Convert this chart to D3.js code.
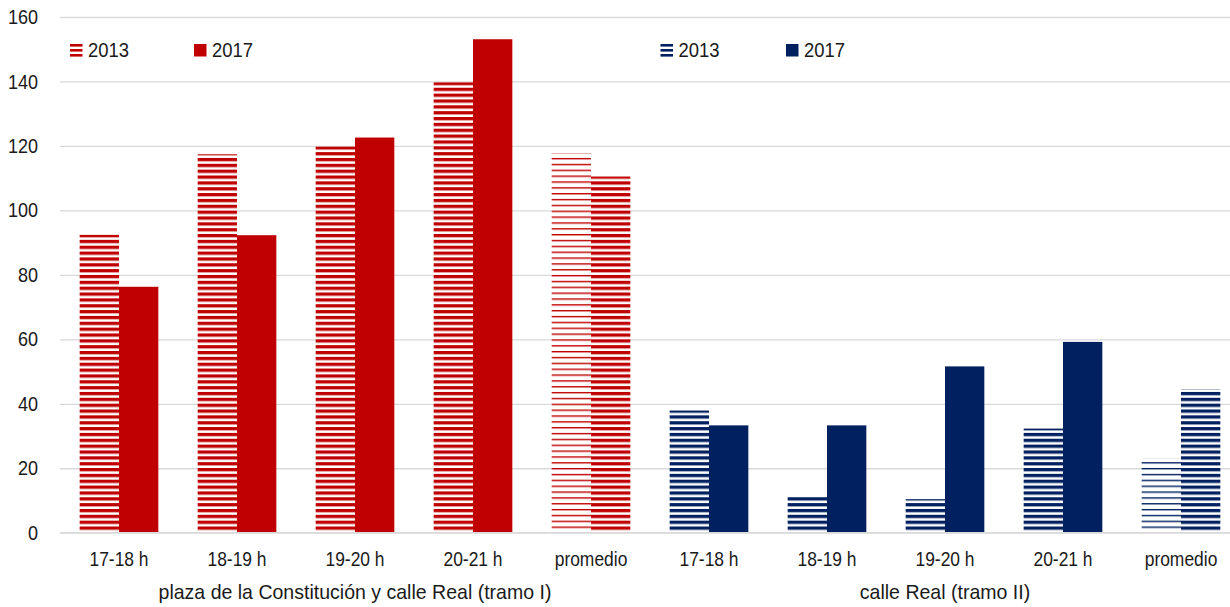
<!DOCTYPE html>
<html>
<head>
<meta charset="utf-8">
<script src="https://cdn.jsdelivr.net/npm/d3@7"></script>
<style>
  body { margin: 0; background: #fff; }
  text { font-family: "Liberation Sans Narrow", "Arial Narrow", "Liberation Sans", Arial, sans-serif; fill: #1a1a1a; }
</style>
</head>
<body>
<svg id="chart" width="1230" height="607"></svg>
<script>
// Hourly counts for the two street sections, 2013 vs 2017
const hours = ["17-18 h", "18-19 h", "19-20 h", "20-21 h", "promedio"];
const sections = ["plaza de la Constitución y calle Real (tramo I)", "calle Real (tramo II)"];
const years = ["2013", "2017"];
const tramoI2013 = [92.4, 117.4, 119.8, 139.7, 117.7];
const tramoI2017 = [76.3, 92.3, 122.6, 153.1, 110.5];
const tramoII2013 = [37.9, 11.4, 10.4, 32.3, 23.1];
const tramoII2017 = [33.3, 33.3, 51.6, 59.2, 44.5];
const yTicks = [0, 20, 40, 60, 80, 100, 120, 140, 160];
const sectionColors = ["#C00000", "#002060"];

const seriesBySection = [[tramoI2013, tramoI2017], [tramoII2013, tramoII2017]];

const W = 1230, H = 607;
const svg = d3.select("#chart");
const FS = 20.5;

// narrow the glyphs horizontally (condensed face look)
function condense(sel, f) {
  sel.each(function () {
    const len = this.getComputedTextLength();
    d3.select(this).attr("textLength", len * f).attr("lengthAdjust", "spacingAndGlyphs");
  });
}

const y = d3.scaleLinear().domain([0, 160]).range([532.7, 17]);
const x = d3.scaleBand().domain(d3.range(sections.length * hours.length)).range([60, 1240]).padding(0);
const inner = d3.scaleBand().domain(years).range([0, x.bandwidth()]).paddingInner(0).paddingOuter(0.5);

// stripe fills
const defs = svg.append("defs");
const period = 5.85;
sectionColors.forEach((c, k) => {
  [["dense", 3.3], ["sparse", 1.4]].forEach(([name, th]) => {
    const p = defs.append("pattern")
      .attr("id", `${name}-${k}`)
      .attr("patternUnits", "userSpaceOnUse")
      .attr("width", 10).attr("height", period);
    p.append("rect").attr("width", 10).attr("height", period).attr("fill", "#fff");
    p.append("rect").attr("width", 10).attr("height", th).attr("fill", c);
  });
});

// gridlines + y labels
const yAxis = svg.append("g")
  .attr("transform", "translate(60,0)")
  .call(d3.axisLeft(y).tickValues(yTicks).tickSizeInner(-(W - 60)).tickSizeOuter(0).tickPadding(22));
yAxis.select(".domain").remove();
yAxis.attr("font-family", null);
yAxis.selectAll("line").attr("stroke", "#d9d9d9").attr("stroke-width", 1.3);
yAxis.selectAll("text").attr("font-size", FS).attr("fill", "#1a1a1a").call(condense, 0.88);

// bars
const bars = [];
sections.forEach((s, si) => {
  hours.forEach((h, hi) => {
    years.forEach((yr, yi) => {
      bars.push({ si, hi, yi, yr, v: seriesBySection[si][yi][hi], idx: si * hours.length + hi });
    });
  });
});
function fillFor(d) {
  const avg = d.hi === hours.length - 1;
  if (d.yi === 0) return avg ? `url(#sparse-${d.si})` : `url(#dense-${d.si})`;
  return avg ? `url(#dense-${d.si})` : sectionColors[d.si];
}
svg.append("g").selectAll("rect").data(bars).join("rect")
  .attr("x", d => x(d.idx) + inner(d.yr))
  .attr("width", inner.bandwidth())
  .attr("y", d => y(d.v))
  .attr("height", d => y(0) - y(d.v))
  .attr("fill", fillFor);

// baseline
svg.append("line").attr("x1", 60).attr("x2", W).attr("y1", y(0)).attr("y2", y(0))
  .attr("stroke", "#d9d9d9").attr("stroke-width", 1.3);

// category labels
const xAxis = svg.append("g")
  .attr("transform", `translate(0,${y(0)})`)
  .call(d3.axisBottom(x).tickFormat(i => hours[i % hours.length]).tickSize(0).tickPadding(19));
xAxis.select(".domain").remove();
xAxis.attr("font-family", null);
xAxis.selectAll("text").attr("font-size", FS).attr("fill", "#1a1a1a").call(condense, 0.85);

// section labels
svg.append("g").selectAll("text").data(sections).join("text")
  .attr("x", (s, si) => (x(si * hours.length) + x(si * hours.length + hours.length - 1) + x.bandwidth()) / 2)
  .attr("y", 599)
  .attr("text-anchor", "middle")
  .attr("font-size", 21)
  .text(s => s)
  .call(condense, 0.93);

// legends
const legendX = [[70, 194], [660.5, 786]];
sections.forEach((s, si) => {
  years.forEach((yr, yi) => {
    const g = svg.append("g").attr("transform", `translate(${legendX[si][yi]},44)`);
    if (yi === 0) {
      [0, 5, 10].forEach(o => g.append("rect").attr("x", 0).attr("y", o).attr("width", 12.5).attr("height", 2.6).attr("fill", sectionColors[si]));
    } else {
      g.append("rect").attr("width", 12.5).attr("height", 12.5).attr("fill", sectionColors[si]);
    }
    g.append("text").attr("x", 18).attr("y", 13.4).attr("font-size", FS).text(yr).call(condense, 0.9);
  });
});
</script>
</body>
</html>
